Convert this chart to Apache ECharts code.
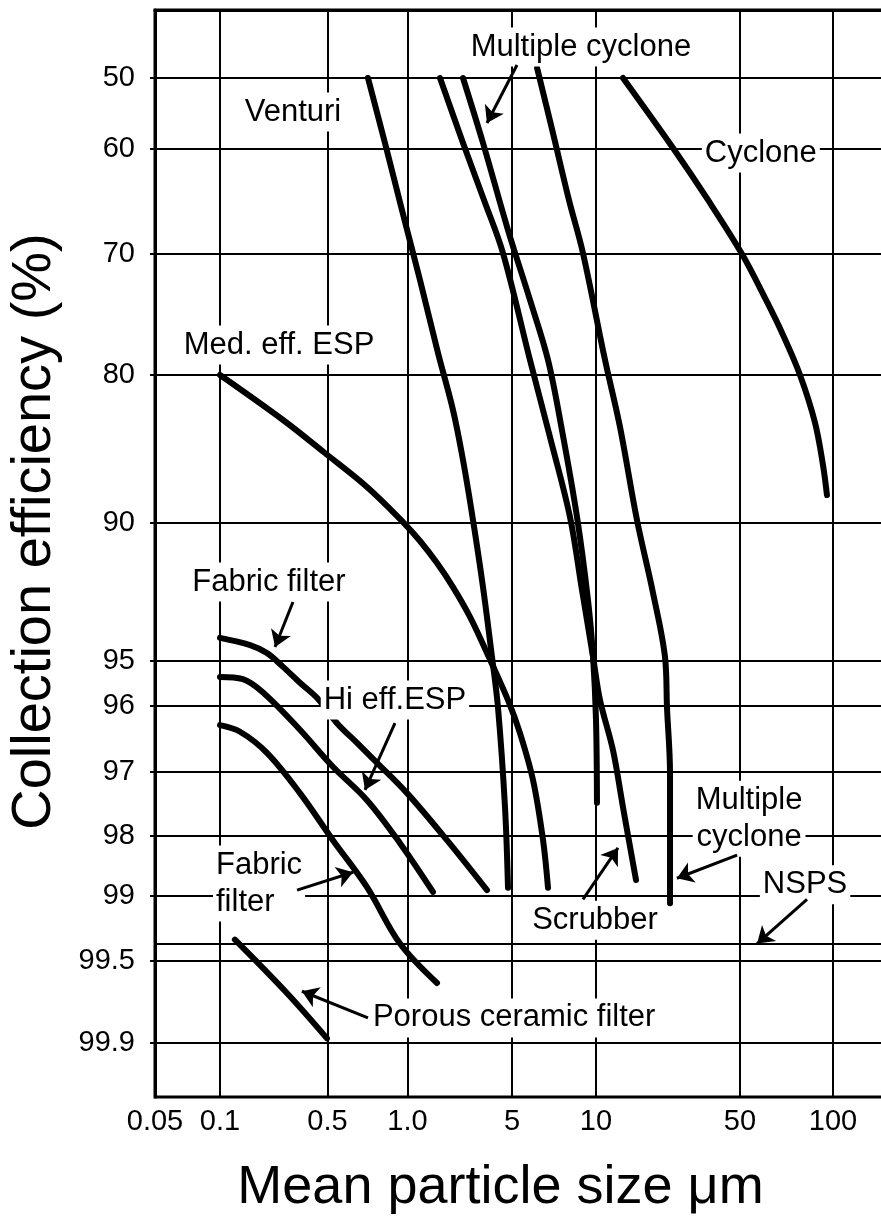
<!DOCTYPE html>
<html><head><meta charset="utf-8">
<script src="https://cdn.jsdelivr.net/npm/echarts@6/dist/echarts.min.js"></script>
<style>html,body{margin:0;padding:0;background:#fff}#c{width:881px;height:1228px}</style>
</head><body><div id="c"></div>
<script>
// ---- Axis scale definitions (tick values, labels and where each tick sits on the axis) ----
const xTickValues = [0.05, 0.1, 0.5, 1.0, 5, 10, 50, 100];
const xTickLabels = ['0.05', '0.1', '0.5', '1.0', '5', '10', '50', '100'];
const xTickStops = [0, 65, 172.5, 252.5, 357, 441, 585, 678];
const yTickValues = [50, 60, 70, 80, 90, 95, 96, 97, 98, 99, 99.5, 99.9];
const yTickLabels = ['50', '60', '70', '80', '90', '95', '96', '97', '98', '99', '99.5', '99.9'];
const yTickStops = [68, 138.5, 244, 365, 512.5, 650.5, 696, 762, 826, 885.5, 950.5, 1032.5];

// ---- Curves: mean particle size (um) and collection efficiency (%) ----
const venturiSize = [0.710, 0.830, 0.953, 1.212, 1.600, 2.015, 2.351, 2.742, 3.199, 3.674, 4.029, 4.489, 4.701];
const venturiEff  = [50.0, 59.79, 65.83, 72.15, 78.18, 82.37, 85.76, 89.83, 92.34, 94.87, 96.02, 97.55, 98.87];

const medEspSize = [0.1, 0.257, 0.481, 0.704, 0.962, 1.212, 1.575, 2.015, 2.618, 3.402, 4.701, 5.34, 5.95, 6.46, 6.73];
const medEspEff  = [80.0, 83.05, 85.29, 87.59, 89.97, 90.67, 91.47, 92.34, 93.42, 94.73, 95.87, 96.41, 97.13, 98.07, 98.87];

const scrubberSize = [1.650, 2.351, 3.248, 4.352, 5.80, 6.84, 8.07, 8.91, 9.76, 10.46, 12.09, 13.52, 15.64];
const scrubberEff  = [50.0, 59.22, 64.88, 69.91, 78.76, 84.20, 89.63, 92.45, 94.87, 95.87, 96.67, 97.55, 98.74];

const multiCyclone1Size = [2.351, 3.199, 4.701, 5.80, 6.73, 7.55, 8.55, 9.36, 9.76, 10.0, 10.11];
const multiCyclone1Eff  = [50.0, 59.22, 67.73, 73.80, 78.76, 83.73, 89.63, 92.81, 94.87, 96.21, 97.48];

const multiCyclone2Size = [6.15, 7.01, 8.00, 8.98, 11.06, 13.08, 15.81, 18.91, 21.62, 22.11, 22.87, 22.87];
const multiCyclone2Eff  = [48.58, 57.80, 64.88, 69.91, 78.76, 83.53, 89.83, 92.55, 94.87, 96.02, 97.02, 99.06];

const cycloneSize = [13.52, 23.65, 34.97, 50.75, 60.7, 68.9, 78.2, 87.5, 92.8, 95.6];
const cycloneEff  = [50.0, 59.93, 64.88, 70.0, 73.80, 76.69, 80.0, 83.25, 86.10, 88.14];

const fabric1Size = [0.1, 0.157, 0.202, 0.257, 0.331, 0.427, 0.543, 0.646, 0.768, 0.996, 1.837, 3.402];
const fabric1Eff  = [94.18, 94.44, 94.73, 95.14, 95.49, 95.82, 96.26, 96.56, 96.86, 97.33, 98.07, 98.91];

const hiEspSize = [0.1, 0.141, 0.196, 0.331, 0.524, 0.704, 0.937, 1.481];
const hiEspEff  = [95.36, 95.41, 95.74, 96.36, 96.92, 97.44, 98.12, 98.94];

const fabric2Size = [0.1, 0.135, 0.202, 0.331, 0.524, 0.704, 0.937, 1.575];
const fabric2Eff  = [96.29, 96.39, 96.71, 97.33, 98.07, 98.86, 99.37, 99.61];

const porousSize = [0.125, 0.273, 0.496];
const porousEff  = [99.34, 99.66, 99.88];

const nspsLimit = 99.37;

// ---- Annotations (text anchored at size / efficiency) ----
const noteTexts = ['Venturi', 'Med. eff. ESP', 'Multiple cyclone', 'Cyclone', 'Fabric filter', 'Hi eff.ESP',
                   'Fabric\nfilter', 'Scrubber', 'Multiple\ncyclone', 'NSPS', 'Porous ceramic filter'];
const noteSize = [0.298, 0.242, 8.83, 58.4, 0.208, 0.897, 0.0928, 9.92, 53.5, 81.2, 0.722];
const noteEff  = [54.82, 77.52, 45.6, 60.43, 92.16, 95.87, 98.80, 99.19, 97.73, 98.82, 99.78];
const noteAlign = ['center', 'center', 'center', 'center', 'center', 'center', 'left', 'center', 'center', 'center', 'left'];

const arrowFromSize = [5.21, 0.298, 0.897, 0.317, 0.710, 8.98, 48.4, 82.4];
const arrowFromEff  = [48.16, 92.88, 96.26, 98.91, 99.78, 99.03, 98.32, 99.03];
const arrowToSize   = [3.40, 0.228, 0.692, 0.624, 0.341, 12.79, 24.7, 56.8];
const arrowToEff    = [56.38, 94.51, 97.28, 98.61, 99.65, 98.20, 98.71, 99.37];

// ---- Scale: piecewise between labelled ticks (log for size, linear for efficiency) ----
function toAxis(v, vals, stops, logScale) {
  const f = logScale ? Math.log10 : (t => t);
  const n = vals.length;
  let i = 0;
  while (i < n - 2 && v > vals[i + 1]) i++;
  const a = f(vals[i]), b = f(vals[i + 1]);
  return stops[i] + (f(v) - a) / (b - a) * (stops[i + 1] - stops[i]);
}
const xPos = v => toAxis(v, xTickValues, xTickStops, true);
const yPos = v => toAxis(v, yTickValues, yTickStops, false);
function tickLabel(stops, labels) {
  return v => { const i = stops.findIndex(s => Math.abs(s - v) < 0.01); return i >= 0 ? labels[i] : ''; };
}

const FONT = "'Liberation Sans', Arial, Helvetica, sans-serif";
const curves = [
  ['Venturi', venturiSize, venturiEff],
  ['Med. eff. ESP', medEspSize, medEspEff],
  ['Scrubber', scrubberSize, scrubberEff],
  ['Multiple cyclone (A)', multiCyclone1Size, multiCyclone1Eff],
  ['Multiple cyclone (B)', multiCyclone2Size, multiCyclone2Eff],
  ['Cyclone', cycloneSize, cycloneEff],
  ['Fabric filter (A)', fabric1Size, fabric1Eff],
  ['Hi eff. ESP', hiEspSize, hiEspEff],
  ['Fabric filter (B)', fabric2Size, fabric2Eff],
  ['Porous ceramic filter', porousSize, porousEff]
];

const series = curves.map(([name, sz, ef]) => ({
  type: 'line', name: name,
  data: sz.map((s, i) => [xPos(s), yPos(ef[i])]),
  smooth: 0.35, symbol: 'none', silent: true,
  lineStyle: { color: '#000', width: 6, cap: 'round', join: 'round' },
  z: 3
}));

series.push({
  type: 'scatter', name: 'notes', silent: true, z: 10,
  symbol: 'rect', symbolSize: 1, itemStyle: { color: '#fff', opacity: 1 },
  label: { show: true, position: 'inside', color: '#000', opacity: 1, fontSize: 31, fontFamily: FONT,
           backgroundColor: '#fff', padding: [1, 3], lineHeight: 37 },
  emphasis: { disabled: true },
  data: noteTexts.map((t, i) => ({
    value: [xPos(noteSize[i]), yPos(noteEff[i])],
    label: { formatter: t, align: noteAlign[i] }
  })),
  markLine: {
    silent: true, symbol: 'none', label: { show: false },
    lineStyle: { color: '#000', width: 2, type: 'solid', opacity: 1 },
    data: [{ yAxis: yPos(nspsLimit) }]
  }
});

series.push({
  type: 'lines', coordinateSystem: 'cartesian2d', silent: true, z: 12,
  symbol: ['none', 'arrow'], symbolSize: 16,
  lineStyle: { color: '#000', width: 3, curveness: 0, opacity: 1 },
  data: arrowFromSize.map((s, i) => ({
    coords: [[xPos(s), yPos(arrowFromEff[i])], [xPos(arrowToSize[i]), yPos(arrowToEff[i])]]
  }))
});

const chart = echarts.init(document.getElementById('c'), null, { renderer: 'canvas' });
chart.setOption({
  animation: false,
  backgroundColor: '#fff',
  grid: { left: 155, right: -3, top: 10, bottom: 131, show: true, borderColor: '#000', borderWidth: 3,
          containLabel: false, outerBoundsMode: 'none' },
  xAxis: {
    type: 'value', min: 0, max: 729,
    name: 'Mean particle size μm', nameLocation: 'middle', nameGap: 64,
    nameTextStyle: { fontSize: 54, color: '#000', fontFamily: FONT, padding: [0, 38, 0, 0] },
    axisLine: { show: true, lineStyle: { color: '#000', width: 3 } },
    axisTick: { show: false, customValues: xTickStops },
    axisLabel: { customValues: xTickStops, formatter: tickLabel(xTickStops, xTickLabels),
                 margin: 10, fontSize: 29, color: '#000', fontFamily: FONT },
    splitLine: { show: true, lineStyle: { color: '#000', width: 2 } }
  },
  yAxis: {
    type: 'value', min: 0, max: 1087, inverse: true,
    name: 'Collection efficiency (%)', nameLocation: 'middle', nameGap: 92,
    nameTextStyle: { fontSize: 56, color: '#000', fontFamily: FONT, padding: [0, 0, 0, 44] },
    axisLine: { show: true, lineStyle: { color: '#000', width: 3 } },
    axisTick: { show: true, customValues: yTickStops, length: 5, lineStyle: { color: '#000', width: 2 } },
    axisLabel: { customValues: yTickStops, formatter: tickLabel(yTickStops, yTickLabels),
                 margin: 20, fontSize: 29, color: '#000', fontFamily: FONT },
    splitLine: { show: true, lineStyle: { color: '#000', width: 2 } }
  },
  series: series
});
</script></body></html>
